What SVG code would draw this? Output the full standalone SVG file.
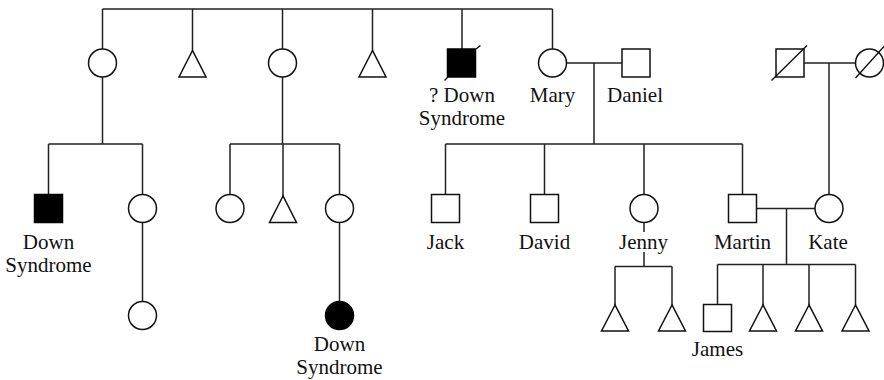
<svg xmlns="http://www.w3.org/2000/svg" width="884" height="380" viewBox="0 0 884 380">
<style>
.s{fill:#fff;stroke:#111;stroke-width:1.5}
.f{fill:#000;stroke:#000;stroke-width:1.5}
.c{fill:none;stroke:#222;stroke-width:1.5}
.sl{fill:none;stroke:#111;stroke-width:1.4}
.t{font-size:21px;fill:#111;text-anchor:middle}
</style>
<rect width="884" height="380" fill="#fff"/>
<g id="connectors">
<path class="c" d="M102.5 9H552.5M102.5 9V49M192.5 9V50.5M282.5 9V49M372.5 9V50.5M462 9V49M552.5 9V49"/>
<path class="c" d="M102.5 77V144M48.5 144H142.5M48.5 144V194.5M142.5 144V194.5M142.5 222.5V301.5"/>
<path class="c" d="M282.5 77V144M230 144H339.5M230 144V194.5M283 144V196M339.5 144V194.5M339.5 222.5V301.5"/>
<path class="c" d="M566.5 63H622M594 63V144M445.5 144H742.5M445.5 144V194.5M544.5 144V194.5M644 144V194.5M742.5 144V194.5"/>
<path class="c" d="M644 222.5V232M644 252V266.5M615 266.5H672M615 266.5V305M672 266.5V305"/>
<path class="c" d="M757 208.5H815M786.5 208.5V264.5M717.5 264.5H855.5M717.5 264.5V304.5M763 264.5V305M809 264.5V305M855.5 264.5V305"/>
<path class="c" d="M804 63H855.5M829 63V194.5"/>
</g>
<g font-family="'Liberation Serif', 'Times New Roman', 'DejaVu Serif', serif">
<g id="n1"><circle class="s" cx="102.5" cy="63" r="14"/></g>
<g id="n2"><polygon class="s" points="192.5,50.5 179,77 206,77"/></g>
<g id="n3"><circle class="s" cx="282.5" cy="63" r="14"/></g>
<g id="n4"><polygon class="s" points="372.5,50.5 359,77 386,77"/></g>
<g id="n5"><rect class="f" x="447.5" y="49" width="28" height="28"/><path class="sl" d="M444.5 80.5L448 77M476 49L480.5 45.5"/><text class="t" x="462" y="102">? Down</text><text class="t" x="462" y="125">Syndrome</text></g>
<g id="mary"><circle class="s" cx="552.5" cy="63" r="14"/><text class="t" x="552.5" y="102">Mary</text></g>
<g id="daniel"><rect class="s" x="622" y="49" width="28" height="28"/><text class="t" x="635" y="102">Daniel</text></g>
<g id="kate-father"><rect class="s" x="776" y="49" width="28" height="28"/><line class="sl" x1="771.5" y1="80.5" x2="807" y2="45.5"/></g>
<g id="kate-mother"><circle class="s" cx="869.5" cy="63" r="14"/><line class="sl" x1="855.5" y1="78" x2="884" y2="46.5"/></g>
<g id="n6"><rect class="f" x="34.5" y="194.5" width="28" height="28"/><text class="t" x="48.5" y="248.5">Down</text><text class="t" x="48.5" y="271.5">Syndrome</text></g>
<g id="n7"><circle class="s" cx="142.5" cy="208.5" r="14"/></g>
<g id="n8"><circle class="s" cx="230" cy="208.5" r="14"/></g>
<g id="n9"><polygon class="s" points="283,196 269.5,222.5 296.5,222.5"/></g>
<g id="n10"><circle class="s" cx="339.5" cy="208.5" r="14"/></g>
<g id="jack"><rect class="s" x="431.5" y="194.5" width="28" height="28"/><text class="t" x="445.5" y="248.5">Jack</text></g>
<g id="david"><rect class="s" x="530.5" y="194.5" width="28" height="28"/><text class="t" x="544.5" y="248.5">David</text></g>
<g id="jenny"><circle class="s" cx="644" cy="208.5" r="14"/><text class="t" x="643.5" y="248.5">Jenny</text></g>
<g id="martin"><rect class="s" x="728.5" y="194.5" width="28" height="28"/><text class="t" x="742.5" y="248.5">Martin</text></g>
<g id="kate"><circle class="s" cx="829" cy="208.5" r="14"/><text class="t" x="828" y="248.5">Kate</text></g>
<g id="n11"><circle class="s" cx="142.5" cy="315.5" r="14"/></g>
<g id="n12"><circle class="f" cx="339.5" cy="315.5" r="14"/><text class="t" x="339.5" y="351">Down</text><text class="t" x="339.5" y="373.5">Syndrome</text></g>
<g id="n13"><polygon class="s" points="615,305 601.5,331 628.5,331"/></g>
<g id="n14"><polygon class="s" points="672,305 658.5,331 685.5,331"/></g>
<g id="james"><rect class="s" x="703.5" y="304.5" width="28" height="27"/><text class="t" x="717.5" y="356">James</text></g>
<g id="n15"><polygon class="s" points="763,305 749.5,331 776.5,331"/></g>
<g id="n16"><polygon class="s" points="809,305 795.5,331 822.5,331"/></g>
<g id="n17"><polygon class="s" points="855.5,305 842,331 869,331"/></g>
</g>
</svg>
